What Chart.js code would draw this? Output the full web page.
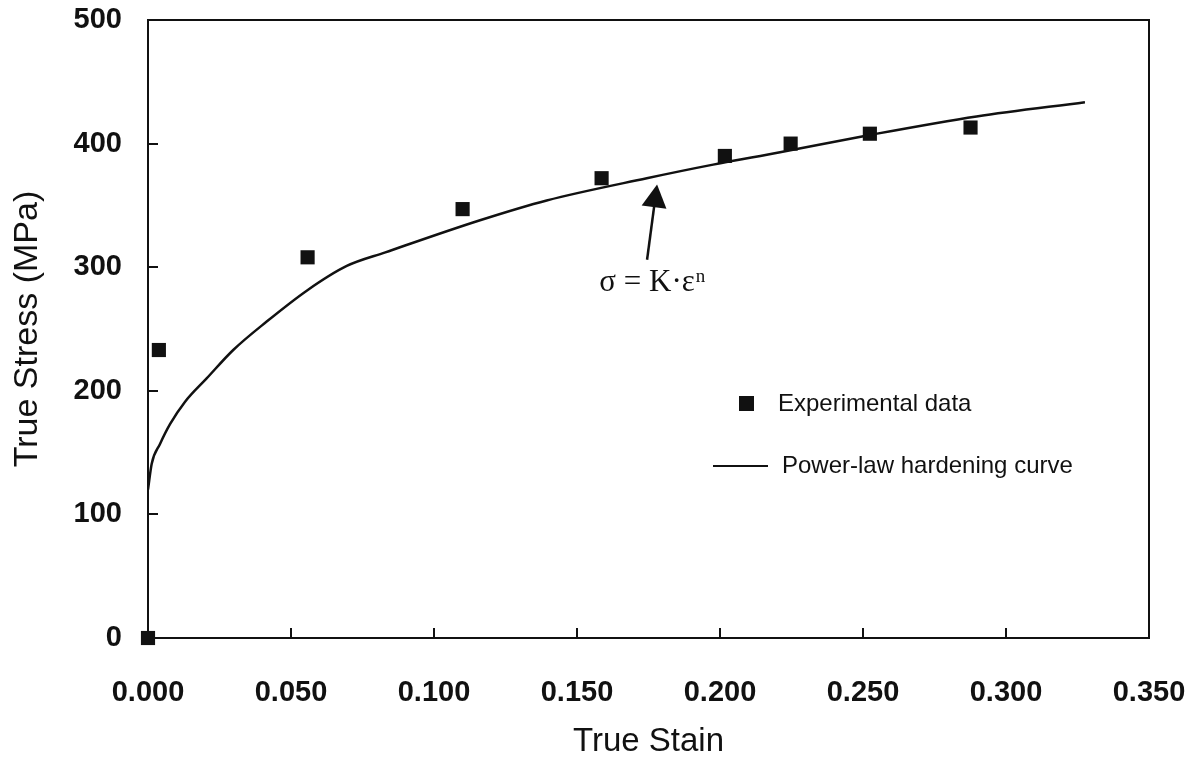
<!DOCTYPE html>
<html lang="en">
<head>
  <meta charset="UTF-8">
  <title>True Stress vs True Strain</title>
  <script src="https://cdn.jsdelivr.net/npm/chart.js"></script>
  <style>
    html, body { margin: 0; padding: 0; background: #fff; }
    #wrap { width: 1193px; height: 758px; }
  </style>
</head>
<body>
  <div id="wrap"><canvas id="myChart" width="1193" height="758"></canvas></div>
  <script>
    // data
    const expStrain = [0, 0.0038, 0.0558, 0.110, 0.1586, 0.2017, 0.2247, 0.2524, 0.2876];
    const expStress = [0, 233, 308, 347, 372, 390, 400, 408, 413];

    const fitStrain = [0, 0.0013, 0.0042, 0.0077, 0.0129, 0.0205, 0.0298, 0.0415, 0.0555, 0.0695,
                       0.083, 0.1161, 0.1394, 0.1744, 0.1976, 0.221, 0.2524, 0.2897, 0.3276];
    const fitStress = [120, 141, 157, 173, 191, 210, 233, 256, 281, 301,
                       312, 338, 354, 372, 383, 393, 407, 422, 433.5];

    const xTicks = ['0.000', '0.050', '0.100', '0.150', '0.200', '0.250', '0.300', '0.350'];
    const yTicks = ['0', '100', '200', '300', '400', '500'];

    const ink = '#111';
    const sans = "'Liberation Sans', Arial, sans-serif";
    const serif = "'Liberation Serif', 'Times New Roman', serif";

    // frame, arrow + formula, legend
    const extras = {
      id: 'extras',
      afterDatasetsDraw(chart) {
        const { ctx, chartArea: a, scales: { x, y } } = chart;
        ctx.save();
        ctx.strokeStyle = ink;
        ctx.lineWidth = 2;
        ctx.beginPath();
        ctx.moveTo(a.left, a.top);
        ctx.lineTo(a.right, a.top);
        ctx.lineTo(a.right, a.bottom);
        ctx.stroke();

        // arrow pointing at the curve
        const tx = x.getPixelForValue(0.1745), ty = y.getPixelForValue(306);
        const hx = x.getPixelForValue(0.178), hy = y.getPixelForValue(367);
        const ang = Math.atan2(hy - ty, hx - tx);
        ctx.lineWidth = 2.5;
        ctx.beginPath();
        ctx.moveTo(tx, ty);
        ctx.lineTo(hx - 20 * Math.cos(ang), hy - 20 * Math.sin(ang));
        ctx.stroke();
        ctx.fillStyle = ink;
        ctx.beginPath();
        ctx.moveTo(hx, hy);
        ctx.lineTo(hx - 23 * Math.cos(ang) + 12.5 * Math.sin(ang), hy - 23 * Math.sin(ang) - 12.5 * Math.cos(ang));
        ctx.lineTo(hx - 23 * Math.cos(ang) - 12.5 * Math.sin(ang), hy - 23 * Math.sin(ang) + 12.5 * Math.cos(ang));
        ctx.closePath();
        ctx.fill();

        // formula
        ctx.font = '31px ' + serif;
        ctx.textBaseline = 'alphabetic';
        ctx.textAlign = 'left';
        const main = 'σ = K·ε';
        const fx = x.getPixelForValue(0.1578), fy = y.getPixelForValue(281);
        ctx.fillText(main, fx, fy);
        const w = ctx.measureText(main).width;
        ctx.font = '19px ' + serif;
        ctx.fillText('n', fx + w + 1, fy - 9);

        // legend
        const lx = a.left, ly = a.top;
        ctx.fillRect(lx + 591, ly + 376, 15, 15);
        ctx.font = '24px ' + sans;
        ctx.textBaseline = 'middle';
        ctx.fillText('Experimental data', lx + 630, ly + 384);
        ctx.lineWidth = 2;
        ctx.beginPath();
        ctx.moveTo(lx + 565, ly + 446);
        ctx.lineTo(lx + 620, ly + 446);
        ctx.stroke();
        ctx.fillText('Power-law hardening curve', lx + 634, ly + 446);
        ctx.restore();
      }
    };

    const ctx = document.getElementById('myChart').getContext('2d');
    const myChart = new Chart(ctx, {
      type: 'scatter',
      data: {
        datasets: [{
          label: 'Power-law hardening curve',
          type: 'line',
          data: fitStrain.map((v, i) => ({ x: v, y: fitStress[i] })),
          borderColor: ink,
          borderWidth: 2.5,
          pointRadius: 0,
          fill: false,
          cubicInterpolationMode: 'monotone'
        }, {
          label: 'Experimental data',
          data: expStrain.map((v, i) => ({ x: v, y: expStress[i] })),
          pointStyle: 'rect',
          pointRadius: 10,
          backgroundColor: ink,
          borderColor: ink,
          borderWidth: 0,
          clip: false
        }]
      },
      options: {
        responsive: false,
        animation: false,
        layout: { padding: { top: 20, right: 44, left: 0, bottom: 0 } },
        plugins: { legend: { display: false }, tooltip: { enabled: false } },
        scales: {
          x: {
            type: 'linear',
            min: 0, max: 0.35,
            afterFit(s) { s.height = 120; s.paddingLeft = 0; s.paddingRight = 0; },
            border: { color: ink, width: 2 },
            grid: { drawOnChartArea: false, drawTicks: true, tickLength: -10, color: ink, lineWidth: 2 },
            ticks: {
              stepSize: 0.05,
              padding: 48,
              color: ink,
              font: { family: sans, size: 29, weight: 'bold' },
              maxRotation: 0,
              callback: (v, i) => xTicks[i]
            },
            title: {
              display: true,
              text: 'True Stain',
              color: ink,
              font: { family: sans, size: 33, lineHeight: 1 },
              padding: { top: 0, bottom: 0 }
            }
          },
          y: {
            type: 'linear',
            min: 0, max: 500,
            afterFit(s) { s.width = 148; s.paddingTop = 0; s.paddingBottom = 0; },
            border: { color: ink, width: 2 },
            grid: { drawOnChartArea: false, drawTicks: true, tickLength: -10, color: ink, lineWidth: 2 },
            ticks: {
              stepSize: 100,
              padding: 36,
              color: ink,
              font: { family: sans, size: 29, weight: 'bold' },
              callback: (v, i) => yTicks[i]
            },
            title: {
              display: true,
              text: 'True Stress (MPa)',
              color: ink,
              font: { family: sans, size: 34 },
              padding: { top: 7, bottom: 0 }
            }
          }
        }
      },
      plugins: [extras]
    });
  </script>
</body>
</html>
